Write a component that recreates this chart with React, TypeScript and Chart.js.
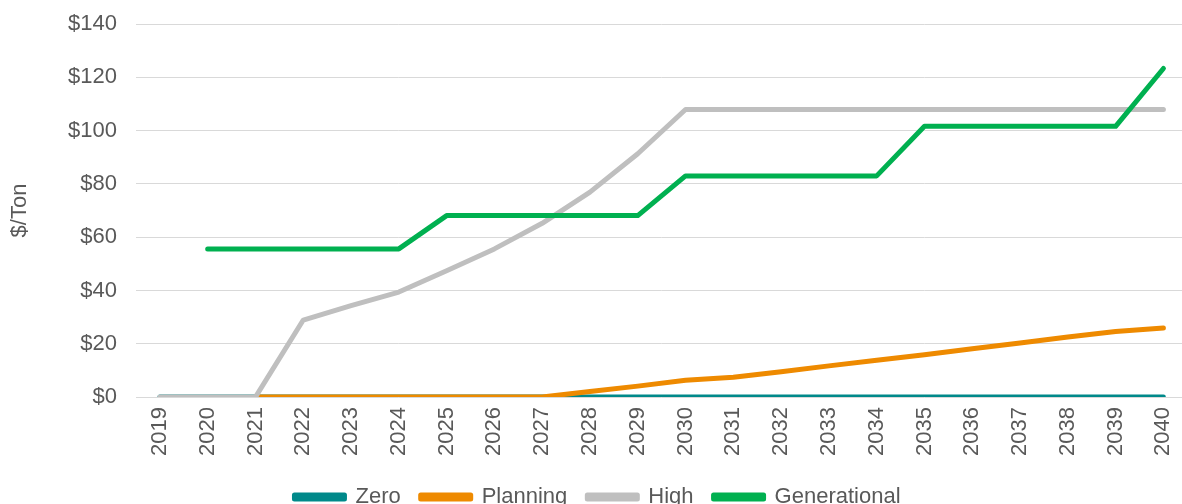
import React, { useEffect, useRef } from "react";
import { Chart, registerables } from "chart.js";

Chart.register(...registerables);

const years = ["2019","2020","2021","2022","2023","2024","2025","2026","2027","2028","2029","2030","2031","2032","2033","2034","2035","2036","2037","2038","2039","2040"];
const zero = [0,0,0,0,0,0,0,0,0,0,0,0,0,0,0,0,0,0,0,0,0,0];
const planning = [null,null,0,0,0,0,0,0,0,2.1,4.1,6.3,7.4,9.5,11.7,13.8,15.9,18.1,20.3,22.5,24.6,25.9];
const high = [0,0,0,28.9,34.3,39.4,47.4,55.6,65.2,76.9,91.3,107.9,107.9,107.9,107.9,107.9,107.9,107.9,107.9,107.9,107.9,107.9];
const generational = [null,55.6,55.6,55.6,55.6,55.6,68.1,68.1,68.1,68.1,68.1,83.0,83.0,83.0,83.0,83.0,101.6,101.6,101.6,101.6,101.6,123.3];
const yTicks = [0,20,40,60,80,100,120,140];

const FONT = "Arial, 'Liberation Sans', sans-serif";
const TEXT = "#595959";
const FS = 22;
const W = 1200;
const H = 518;

export default function App() {
  const ref = useRef<HTMLCanvasElement | null>(null);
  useEffect(() => {
    document.documentElement.style.overflow = "hidden";
    document.body.style.margin = "0";
    document.body.style.overflow = "hidden";
    const mk = (label: string, data: (number | null)[], color: string, order: number) => ({
      label, data, borderColor: color, backgroundColor: color, borderWidth: 5,
      pointRadius: 0, pointHoverRadius: 0, tension: 0, order,
      borderCapStyle: "round" as const, borderJoinStyle: "round" as const, fill: false,
    });
    const chart = new Chart(ref.current!, {
      type: "line",
      data: {
        labels: years,
        datasets: [
          mk("Zero", zero, "#00898A", 4),
          mk("Planning", planning, "#EE8A00", 3),
          mk("High", high, "#BFBFBF", 2),
          mk("Generational", generational, "#00B050", 1),
        ],
      },
      options: {
        animation: false,
        responsive: false,
        maintainAspectRatio: false,
        layout: { padding: { left: 3, right: 8, top: 0, bottom: 0 } },
        plugins: {
          tooltip: { enabled: false },
          legend: {
            position: "bottom",
            reverse: true,
            labels: {
              boxWidth: 50, boxHeight: 4, padding: 20, color: TEXT,
              font: { family: FONT, size: FS },
            },
          },
        },
        scales: {
          x: {
            offset: true,
            grid: { display: false, drawTicks: false },
            border: { display: false },
            ticks: { color: TEXT, font: { family: FONT, size: FS }, minRotation: 90, maxRotation: 90, padding: 10, autoSkip: false },
          },
          y: {
            min: 0, max: 140,
            afterFit: (s: any) => { s.width = 133; s.paddingTop = 24; },
            afterBuildTicks: (s: any) => { s.ticks = yTicks.map((v) => ({ value: v })); },
            grid: { color: "#D9D9D9", lineWidth: 1, drawTicks: false },
            border: { display: false },
            ticks: { color: TEXT, font: { family: FONT, size: FS }, padding: 19, callback: (v: any) => "$" + v },
            title: { display: true, text: "$/Ton", color: TEXT, font: { family: FONT, size: FS }, padding: { top: 4, bottom: 4 } },
          },
        },
      },
    });
    return () => chart.destroy();
  }, []);
  return (
    <div style={{ position: "absolute", left: 0, top: 0, width: W, height: H }}>
      <canvas ref={ref} width={W} height={H} style={{ width: W, height: H }} />
    </div>
  );
}
